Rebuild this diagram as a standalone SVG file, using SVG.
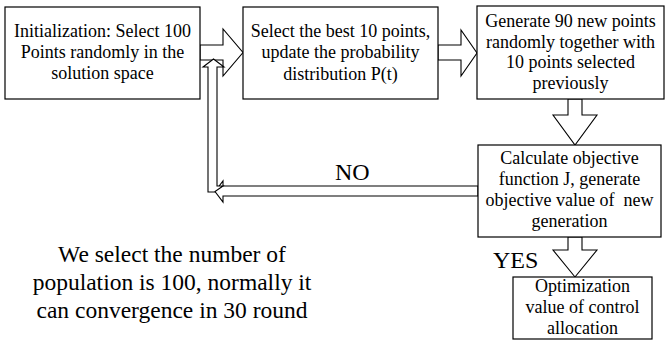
<svg xmlns="http://www.w3.org/2000/svg" width="666" height="342" viewBox="0 0 666 342">
<style>
.box{fill:#fff;stroke:#000;stroke-width:1.2}
.arr{fill:#fff;stroke:#000;stroke-width:1.1;stroke-linejoin:miter}
.t{font-size:18px;fill:#000;text-anchor:middle}
.big{font-size:24px;fill:#000}
.note{font-size:23.5px;fill:#000;text-anchor:middle}
</style>
<rect width="666" height="342" fill="#fff"/>
<g id="connectors">
<polygon class="arr" points="200,45 223,45 223,29 243,52.5 223,76 223,60 200,60"/>
<polygon class="arr" points="438,45 461,45 461,30 477,53 461,76 461,60 438,60"/>
<polygon class="arr" points="568,99 582,99 582,115 597,115 575,145 553,115 568,115"/>
<polygon class="arr" points="568,237 582,237 582,250 597,250 575,277 553,250 568,250"/>
<polygon class="arr" points="215,191.5 223,181 223,186 478,186 478,196 223,196 223,202"/>
<polygon class="arr" points="208,192 208,67 203,67 213.5,59 224,67 217,67 217,186 223,186 215,191.5 215,192"/>
</g>
<g font-family="Liberation Serif, Tinos, DejaVu Serif, serif">
<g id="n1">
<rect class="box" x="5" y="7" width="195" height="92"/>
<text class="t" x="102.5" y="37">Initialization: Select 100</text>
<text class="t" x="102.5" y="58">Points randomly in the</text>
<text class="t" x="102.5" y="79">solution space</text>
</g>
<g id="n2">
<rect class="box" x="243" y="7" width="195" height="92"/>
<text class="t" x="340.5" y="37">Select the best 10 points,</text>
<text class="t" x="340.5" y="58">update the probability</text>
<text class="t" x="340.5" y="80">distribution P(t)</text>
</g>
<g id="n3">
<rect class="box" x="477" y="6" width="187" height="93"/>
<text class="t" x="570.5" y="27">Generate 90 new points</text>
<text class="t" x="570.5" y="48">randomly together with</text>
<text class="t" x="570.5" y="68">10 points selected</text>
<text class="t" x="570.5" y="89">previously</text>
</g>
<g id="n4">
<rect class="box" x="478" y="145" width="183" height="92"/>
<text class="t" x="569.5" y="164">Calculate objective</text>
<text class="t" x="569.5" y="185">function J, generate</text>
<text class="t" x="569.5" y="206" xml:space="preserve">objective value of  new</text>
<text class="t" x="569.5" y="227">generation</text>
</g>
<g id="n5">
<rect class="box" x="513" y="277" width="139" height="62"/>
<text class="t" x="582.5" y="292">Optimization</text>
<text class="t" x="582.5" y="313">value of control</text>
<text class="t" x="582.5" y="334">allocation</text>
</g>
<g id="labels">
<text class="big" x="335" y="180">NO</text>
<text class="big" x="493" y="268">YES</text>
<text class="note" x="172" y="262">We select the number of</text>
<text class="note" x="172" y="290">population is 100, normally it</text>
<text class="note" x="172" y="318">can convergence in 30 round</text>
</g>
</g>
</svg>
